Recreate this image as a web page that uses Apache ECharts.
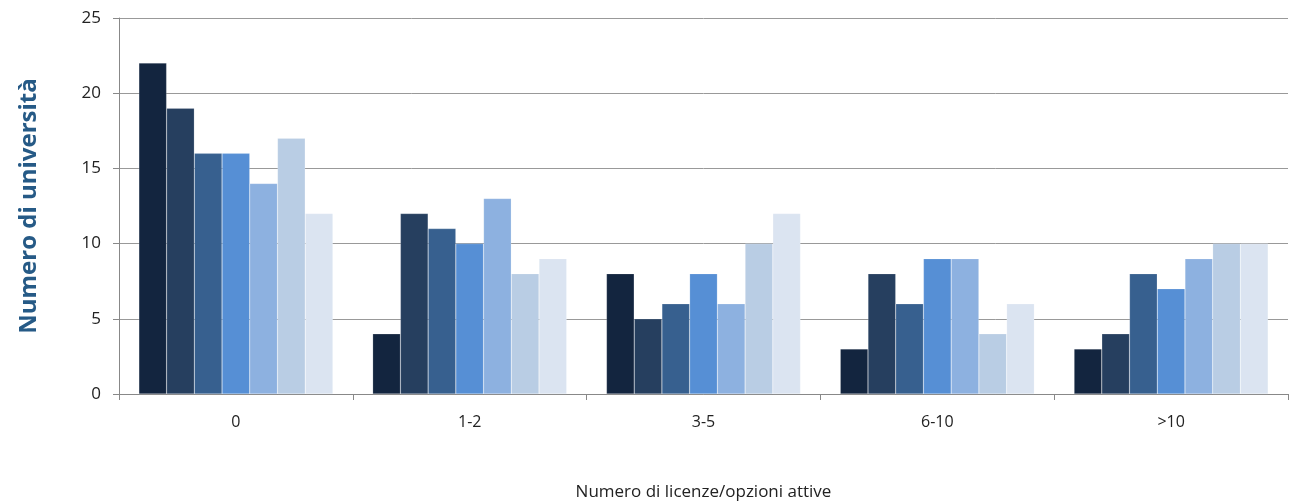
<!DOCTYPE html>
<html><head><meta charset="utf-8">
<script src="https://cdn.jsdelivr.net/npm/echarts@6/dist/echarts.min.js"></script>
<style>html,body{margin:0;padding:0;background:#fff}#c{width:1289px;height:504px}</style>
</head><body><div id="c"></div>
<script>
const categories = ['0', '1-2', '3-5', '6-10', '>10'];
const s1 = [22, 4, 8, 3, 3];
const s2 = [19, 12, 5, 8, 4];
const s3 = [16, 11, 6, 6, 8];
const s4 = [16, 10, 8, 9, 7];
const s5 = [14, 13, 6, 9, 9];
const s6 = [17, 8, 10, 4, 10];
const s7 = [12, 9, 12, 6, 10];
const yTicks = [0, 5, 10, 15, 20, 25];

const seriesData = [s1, s2, s3, s4, s5, s6, s7];
const colors = ['#13253f', '#263f5f', '#37608f', '#568fd5', '#8db1e0', '#b9cde4', '#dbe4f1'];
const font = "'Open Sans', 'Noto Sans', sans-serif";

const chart = echarts.init(document.getElementById('c'));
chart.setOption({
  animation: false,
  grid: { left: 119, right: 1, top: 18, bottom: 110, containLabel: false, outerBoundsMode: 'none' },
  xAxis: {
    type: 'category',
    data: categories,
    name: 'Numero di licenze/opzioni attive',
    nameLocation: 'middle',
    nameGap: 90,
    nameTextStyle: { fontFamily: font, fontSize: 17, color: '#222' },
    axisLine: { lineStyle: { color: '#888', width: 1 } },
    axisTick: { show: true, length: 6, lineStyle: { color: '#888' } },
    axisLabel: { fontFamily: font, fontSize: 16, color: '#222', margin: 20 }
  },
  yAxis: {
    type: 'value',
    min: yTicks[0], max: yTicks[yTicks.length - 1], interval: 5,
    name: 'Numero di università',
    nameLocation: 'middle',
    nameGap: 78,
    nameTextStyle: { fontFamily: font, fontSize: 24, fontWeight: 'bold', color: '#265a86' },
    axisLine: { show: true, lineStyle: { color: '#888' } },
    axisTick: { show: true, length: 6, lineStyle: { color: '#888' } },
    axisLabel: { fontFamily: font, fontSize: 17, color: '#222', margin: 18 },
    splitLine: { lineStyle: { color: '#999', width: 1 } }
  },
  series: seriesData.map((d, i) => ({
    type: 'bar',
    data: d,
    barGap: '0%',
    barCategoryGap: '17%',
    itemStyle: { color: colors[i], borderColor: 'rgba(255,255,255,0.35)', borderWidth: 0.5 }
  }))
});
</script></body></html>
